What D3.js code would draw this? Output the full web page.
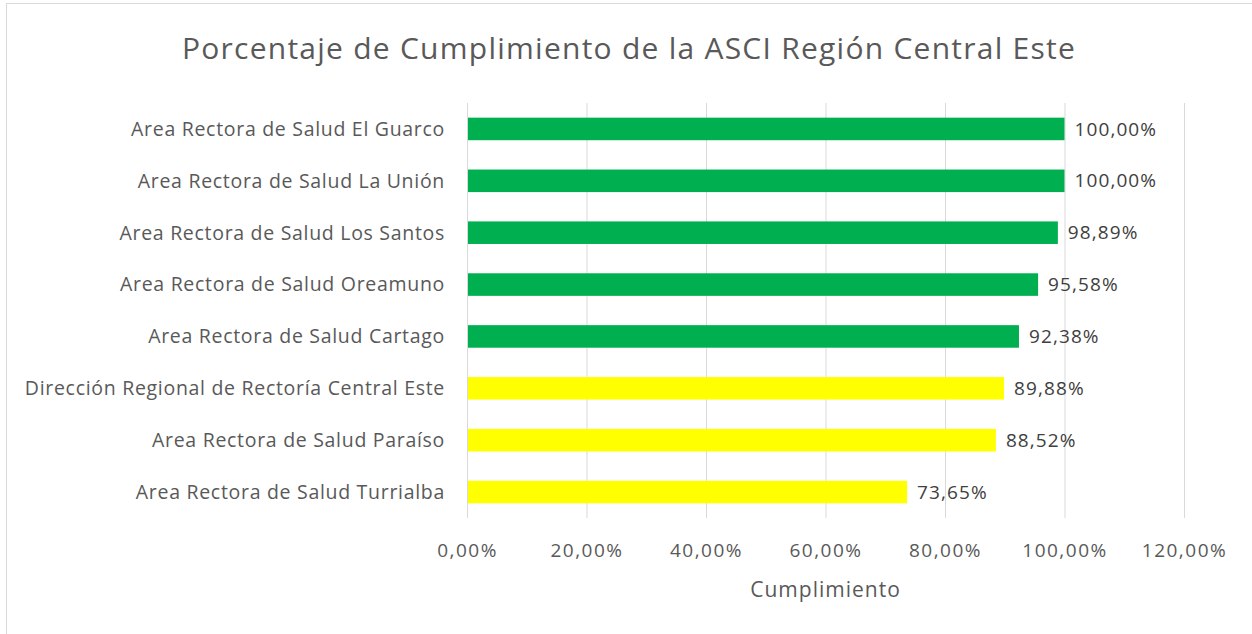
<!DOCTYPE html>
<html>
<head>
<meta charset="utf-8">
<script src="https://cdn.jsdelivr.net/npm/d3@7"></script>
<style>
  html, body { margin: 0; padding: 0; background: #fff; }
  svg { display: block; font-family: "Open Sans", "Noto Sans", sans-serif; }
</style>
</head>
<body>
<svg id="chart" width="1252" height="634"></svg>
<script>
// chart data
const categories = [
    'Area Rectora de Salud El Guarco',
    'Area Rectora de Salud La Unión',
    'Area Rectora de Salud Los Santos',
    'Area Rectora de Salud Oreamuno',
    'Area Rectora de Salud Cartago',
    'Dirección Regional de Rectoría Central Este',
    'Area Rectora de Salud Paraíso',
    'Area Rectora de Salud Turrialba'
];
const values = [100.00, 100.00, 98.89, 95.58, 92.38, 89.88, 88.52, 73.65];
const barColors = ['#00b050', '#00b050', '#00b050', '#00b050', '#00b050', '#ffff00', '#ffff00', '#ffff00'];
const xTicks = [0, 20, 40, 60, 80, 100, 120];
const title = 'Porcentaje de Cumplimiento de la ASCI Región Central Este';
const xTitle = 'Cumplimiento';

const W = 1252, H = 634;
const plot = { left: 467, right: 1184, top: 103, bottom: 518 };

const svg = d3.select('#chart');
const fmt = v => v.toFixed(2).replace('.', ',') + '%';

// outer frame (only top/left edges show in the crop)
svg.append('rect')
    .attr('x', 6.5).attr('y', 3.5)
    .attr('width', W + 10).attr('height', H + 10)
    .attr('fill', '#fff')
    .attr('stroke', '#d9d9d9')
    .attr('stroke-width', 1);

const x = d3.scaleLinear().domain([0, 120]).range([plot.left, plot.right]);
const y = d3.scaleBand().domain(categories).range([plot.top, plot.bottom]).paddingInner(0.565).paddingOuter(0.2825);

// gridlines
svg.append('g')
    .selectAll('line')
    .data(xTicks)
    .join('line')
    .attr('x1', d => x(d) + 0.5).attr('x2', d => x(d) + 0.5)
    .attr('y1', plot.top).attr('y2', plot.bottom)
    .attr('stroke', '#d9d9d9')
    .attr('stroke-width', 1);

// x axis tick labels
const xAxis = svg.append('g')
    .attr('transform', `translate(0,${plot.bottom})`)
    .call(d3.axisBottom(x).tickValues(xTicks).tickSize(0).tickPadding(26).tickFormat(d => fmt(d)));
xAxis.select('.domain').remove();
xAxis.selectAll('text')
    .attr('fill', '#595959')
    .attr('font-size', 19)
    .attr('letter-spacing', 1.5)
    .attr('font-family', '"Open Sans", sans-serif');

// bars
svg.append('g')
    .selectAll('rect')
    .data(values)
    .join('rect')
    .attr('x', x(0) + 1)
    .attr('y', (d, i) => y(categories[i]))
    .attr('width', d => x(d) - x(0) - 1)
    .attr('height', y.bandwidth())
    .attr('fill', (d, i) => barColors[i]);

// category labels
svg.append('g')
    .selectAll('text')
    .data(categories)
    .join('text')
    .attr('x', plot.left - 22)
    .attr('y', d => y(d) + y.bandwidth() / 2)
    .attr('dy', '0.35em')
    .attr('text-anchor', 'end')
    .attr('fill', '#595959')
    .attr('font-size', 19.5)
    .attr('letter-spacing', 0.7)
    .text(d => d);

// data labels
svg.append('g')
    .selectAll('text')
    .data(values)
    .join('text')
    .attr('x', d => x(d) + 10)
    .attr('y', (d, i) => y(categories[i]) + y.bandwidth() / 2)
    .attr('dy', '0.35em')
    .attr('fill', '#404040')
    .attr('font-size', 19)
    .attr('letter-spacing', 1.1)
    .text(d => fmt(d));

// titles
svg.append('text')
    .attr('x', 629).attr('y', 59)
    .attr('text-anchor', 'middle')
    .attr('fill', '#595959')
    .attr('font-size', 30)
    .attr('letter-spacing', 1.25)
    .text(title);

svg.append('text')
    .attr('x', x(60)).attr('y', 597)
    .attr('text-anchor', 'middle')
    .attr('fill', '#595959')
    .attr('font-size', 21)
    .attr('letter-spacing', 1)
    .text(xTitle);
</script>
</body>
</html>
